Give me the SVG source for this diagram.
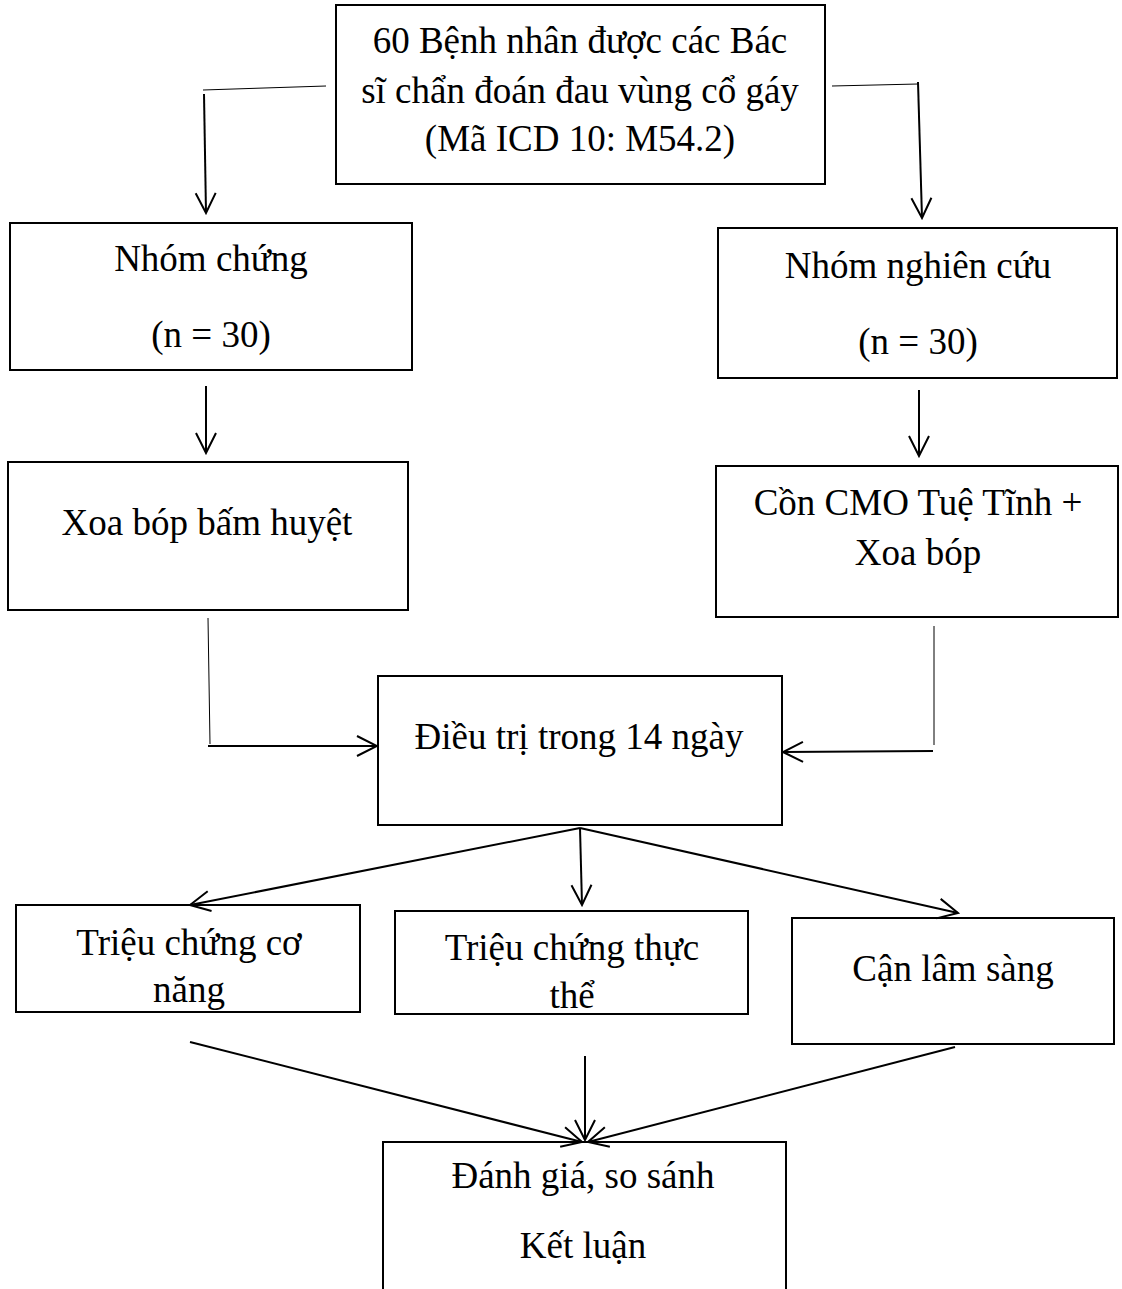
<svg xmlns="http://www.w3.org/2000/svg" width="1122" height="1289" viewBox="0 0 1122 1289">
<style>
.box{fill:#fff;stroke:#000;stroke-width:2}
.t{font-family:"Liberation Serif","Times New Roman",serif;font-size:37px;fill:#000;text-anchor:middle}
.c{fill:none;stroke:#000;stroke-width:2}
.thin{fill:none;stroke:#000;stroke-width:1}
</style>
<defs>
<marker id="ah" viewBox="0 0 24 24" refX="22" refY="12" markerWidth="24" markerHeight="24" markerUnits="userSpaceOnUse" orient="auto">
<path d="M2 2 L22 12 L2 22" fill="none" stroke="#000" stroke-width="2"/>
</marker>
</defs>
<rect width="1122" height="1289" fill="#fff"/>
<g id="n-top">
<rect class="box" x="336" y="5" width="489" height="179"/>
<text class="t" x="580" y="53">60 Bệnh nhân được các Bác</text>
<text class="t" x="580" y="103">sĩ chẩn đoán đau vùng cổ gáy</text>
<text class="t" x="580" y="151">(Mã ICD 10: M54.2)</text>
</g>
<g id="n-chung">
<rect class="box" x="10" y="223" width="402" height="147"/>
<text class="t" x="211" y="271">Nhóm chứng</text>
<text class="t" x="211" y="347">(n = 30)</text>
</g>
<g id="n-nghiencuu">
<rect class="box" x="718" y="228" width="399" height="150"/>
<text class="t" x="918" y="278">Nhóm nghiên cứu</text>
<text class="t" x="918" y="354">(n = 30)</text>
</g>
<g id="n-xoabop">
<rect class="box" x="8" y="462" width="400" height="148"/>
<text class="t" x="207" y="535">Xoa bóp bấm huyệt</text>
</g>
<g id="n-con">
<rect class="box" x="716" y="466" width="402" height="151"/>
<text class="t" x="918" y="515">Cồn CMO Tuệ Tĩnh +</text>
<text class="t" x="918" y="565">Xoa bóp</text>
</g>
<g id="n-dieutri">
<rect class="box" x="378" y="676" width="404" height="149"/>
<text class="t" x="579" y="749">Điều trị trong 14 ngày</text>
</g>
<g id="n-conang">
<rect class="box" x="16" y="905" width="344" height="107"/>
<text class="t" x="189" y="955">Triệu chứng cơ</text>
<text class="t" x="189" y="1002">năng</text>
</g>
<g id="n-thucthe">
<rect class="box" x="395" y="911" width="353" height="103"/>
<text class="t" x="572" y="960">Triệu chứng thực</text>
<text class="t" x="572" y="1008">thể</text>
</g>
<g id="n-canlamsang">
<rect class="box" x="792" y="918" width="322" height="126"/>
<text class="t" x="953" y="981">Cận lâm sàng</text>
</g>
<g id="n-danhgia">
<path class="box" d="M383 1292 L383 1142 L786 1142 L786 1292"/>
<text class="t" x="583" y="1188">Đánh giá, so sánh</text>
<text class="t" x="583" y="1258">Kết luận</text>
</g>
<g id="connectors">
<line class="thin" x1="203" y1="90" x2="326" y2="86"/>
<line class="c" x1="204" y1="94" x2="206" y2="213" marker-end="url(#ah)"/>
<line class="thin" x1="832" y1="86" x2="918" y2="84"/>
<line class="c" x1="918" y1="82" x2="922" y2="218" marker-end="url(#ah)"/>
<line class="c" x1="206" y1="386" x2="206" y2="453" marker-end="url(#ah)"/>
<line class="c" x1="919" y1="390" x2="919" y2="456" marker-end="url(#ah)"/>
<line class="thin" x1="208" y1="618" x2="210" y2="744"/>
<line class="c" x1="208" y1="746" x2="377" y2="746" marker-end="url(#ah)"/>
<line class="thin" x1="934" y1="626" x2="934" y2="745"/>
<line class="c" x1="933" y1="751" x2="783" y2="752" marker-end="url(#ah)"/>
<line class="c" x1="580" y1="828" x2="190" y2="905" marker-end="url(#ah)"/>
<line class="c" x1="580" y1="828" x2="582" y2="905" marker-end="url(#ah)"/>
<line class="c" x1="580" y1="828" x2="958" y2="913" marker-end="url(#ah)"/>
<line class="c" x1="190" y1="1042" x2="582" y2="1142" marker-end="url(#ah)"/>
<line class="c" x1="585" y1="1056" x2="585" y2="1140" marker-end="url(#ah)"/>
<line class="c" x1="955" y1="1047" x2="588" y2="1142" marker-end="url(#ah)"/>
</g>
</svg>
